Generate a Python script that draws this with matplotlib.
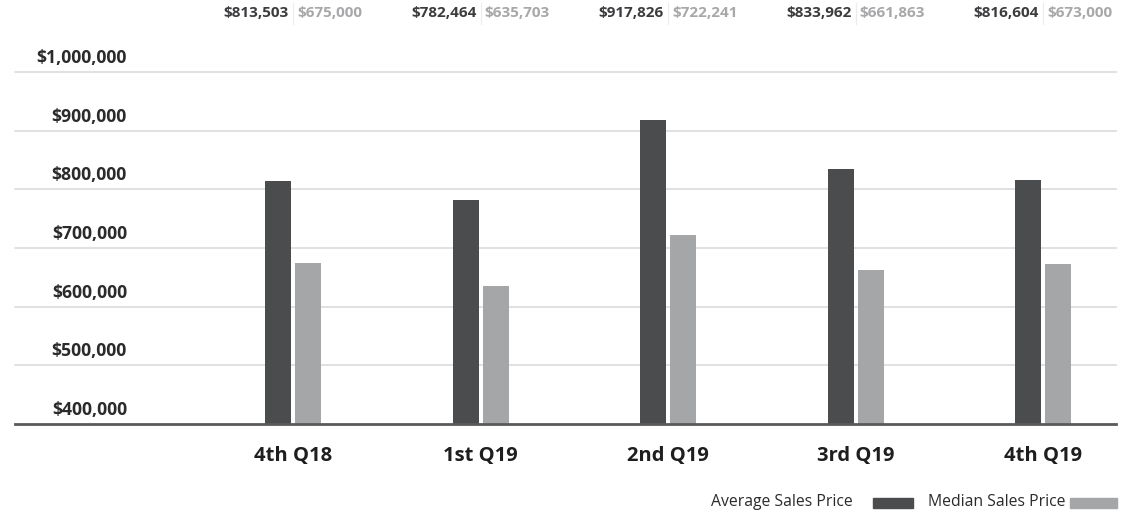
import numpy as np
import matplotlib.pyplot as plt
from matplotlib.patches import Rectangle
import matplotlib.transforms as mtransforms

# data
quarters = ['4th Q18', '1st Q19', '2nd Q19', '3rd Q19', '4th Q19']
avg_price = [813503, 782464, 917826, 833962, 816604]
median_price = [675000, 635703, 722241, 661863, 673000]
y_ticks = [400000, 500000, 600000, 700000, 800000, 900000, 1000000]

DARK = '#4b4c4e'
LIGHT = '#a5a6a8'
TEXT = '#2b2b2b'

plt.rcParams['font.family'] = ['Open Sans', 'DejaVu Sans']

fig = plt.figure(figsize=(11.31, 5.13), dpi=100)
ax = fig.add_axes([15 / 1131, 89 / 513, 1101 / 1131, 352 / 513])

x = np.arange(len(quarters))
w = 0.139
off = 0.08
ax.bar(x - off, avg_price, width=w, color=DARK, bottom=0, zorder=3)
ax.bar(x + off, median_price, width=w, color=LIGHT, bottom=0, zorder=3)

ax.set_xlim(-1.483, 4.389)
ax.set_ylim(400000, 1000000)

for s in ax.spines.values():
    s.set_visible(False)
ax.set_xticks([])
ax.set_yticks([])

# gridlines and y labels
for v in y_ticks:
    if v == 400000:
        ax.axhline(v, color='#5a5a5a', lw=2, zorder=4, clip_on=False)
    else:
        ax.axhline(v, color='#d8d8d8', lw=1.1, zorder=1, clip_on=False)
    ax.annotate('${:,}'.format(v), xy=(127 / 1131, v),
                xycoords=mtransforms.blended_transform_factory(fig.transFigure, ax.transData),
                xytext=(0, 3.5), textcoords='offset points',
                ha='right', va='bottom', fontsize=12.7, fontweight='bold', color=TEXT)

# category labels
for xi, q in zip(x, quarters):
    ax.text(xi, -0.09, q, transform=mtransforms.blended_transform_factory(ax.transData, ax.transAxes),
            ha='center', va='center', fontsize=14.5, fontweight='bold', color='#1e1e1e')

# top value labels
tr = mtransforms.blended_transform_factory(ax.transData, fig.transFigure)
for xi, a, m in zip(x, avg_price, median_price):
    ax.text(xi - 0.022, 1 - 13 / 513, '${:,}'.format(a), transform=tr, ha='right', va='center',
            fontsize=11, fontweight='bold', color='#3c3c3e')
    ax.text(xi + 0.022, 1 - 13 / 513, '${:,}'.format(m), transform=tr, ha='left', va='center',
            fontsize=11, fontweight='bold', color='#a8a8aa')
    ax.plot([xi, xi], [1 - 3 / 513, 1 - 24 / 513], transform=tr, color='#ececec', lw=0.8, clip_on=False)

# legend
fig.text(853 / 1131, 1 - 502 / 513, 'Average Sales Price', ha='right', va='center', fontsize=11.3, color=TEXT)
fig.patches.append(Rectangle((873 / 1131, 1 - 508 / 513), 40 / 1131, 10 / 513,
                             transform=fig.transFigure, color=DARK))
fig.text(928 / 1131, 1 - 502 / 513, 'Median Sales Price', ha='left', va='center', fontsize=11.3, color=TEXT)
fig.patches.append(Rectangle((1070 / 1131, 1 - 508 / 513), 47 / 1131, 10 / 513,
                             transform=fig.transFigure, color=LIGHT))

fig.savefig('out.png', dpi=100)
